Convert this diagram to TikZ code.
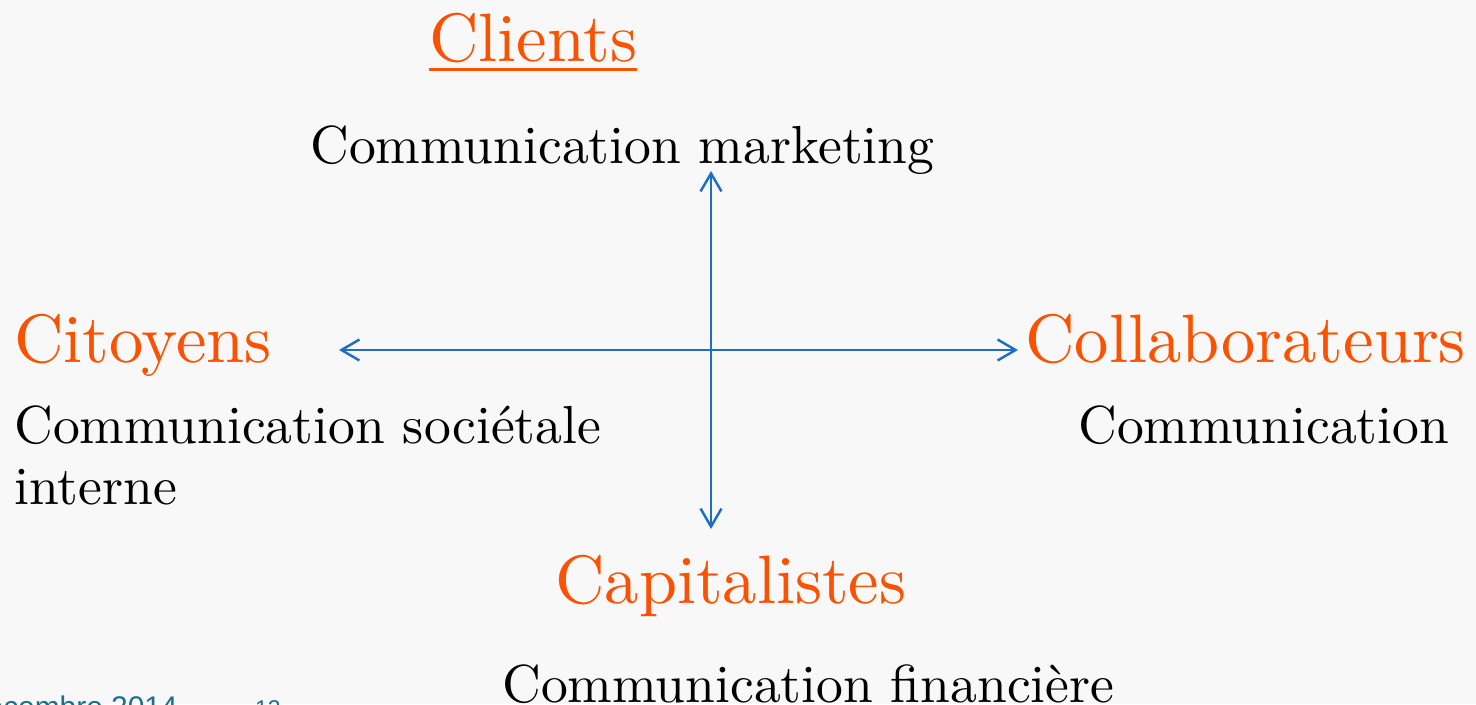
\documentclass[tikz,border=0pt]{standalone}
\usepackage{fontspec}
\setmainfont{lmroman10-regular}[Extension=.otf]
\newfontfamily\footfont{Liberation Sans}
\usepackage{xcolor}
\usepackage{tikz}
\usetikzlibrary{arrows.meta}

\definecolor{actororange}{RGB}{250,82,0}
\definecolor{axisblue}{RGB}{28,110,200}
\definecolor{footteal}{RGB}{30,110,140}
\definecolor{paper}{RGB}{248,248,248}

\begin{document}
\begin{tikzpicture}[x=0.2mm,y=-0.2mm,
    actor/.style={text=actororange,font=\fontsize{39}{47}\selectfont,inner sep=0pt,anchor=base west},
    comm/.style={text=black,font=\fontsize{30.5}{36}\selectfont,inner sep=0pt,anchor=base west},
    axis/.style={draw=axisblue,line width=1.4pt,
      {Straight Barb[length=3.6mm,width=4.2mm]}-{Straight Barb[length=3.6mm,width=4.2mm]}},
    foot/.style={text=footteal,inner sep=0pt,anchor=base east}]
    \useasboundingbox (0,0) rectangle (1476,704);
    \clip (0,0) rectangle (1476,704);
    \fill [paper] (0,0) rectangle (1476,704);

    % the four publics
    \node [actor,anchor=base] (clients) at (533,62) {Clients};
    \draw [actororange,line width=1.7pt] ([yshift=-4.2pt]clients.base west) -- ([yshift=-4.2pt]clients.base east);
    \node [actor] (citoyens) at (14,362) {Citoyens};
    \node [actor] (collab) at (1025,362) {Collaborateurs};
    \node [actor] (capital) at (555,603) {Capitalistes};

    % the kinds of communication
    \node [comm] (marketing) at (310,164) {Communication marketing};
    \node [comm] (societale) at (14,443) {Communication sociétale};
    \node [comm] (interne) at (14,504) {interne};
    \node [comm] (commcollab) at (1078,443) {Communication};
    \node [comm] (financiere) at (502,702) {Communication financière};

    % the axes
    \coordinate (centre) at (711,350);
    \coordinate (top) at (711,171);
    \coordinate (bottom) at (711,529);
    \coordinate (left) at (339,350);
    \coordinate (right) at (1018,350);
    \draw [axis] (top) -- (bottom);
    \draw [axis] (left) -- (right);

    % footer, cut by the page edge
    \node [foot,font=\footfont\fontsize{17}{20}\selectfont] (date) at (178,717) {décembre 2014};
    \node [foot,font=\footfont\fontsize{13}{15}\selectfont] (page) at (281,716) {12};
\end{tikzpicture}
\end{document}
